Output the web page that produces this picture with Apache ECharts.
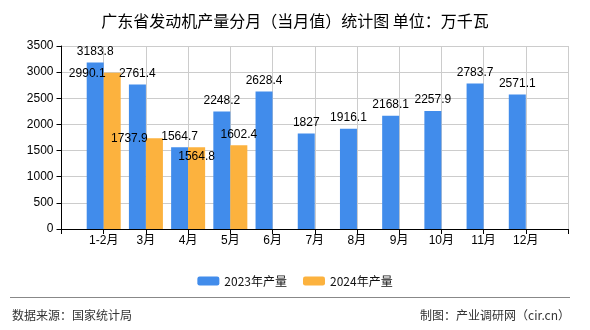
<!DOCTYPE html>
<html>
<head>
<meta charset="utf-8">
<script src="https://cdn.jsdelivr.net/npm/echarts@6/dist/echarts.min.js"></script>
<style>
html,body{margin:0;padding:0;background:#fff;}
#chart{width:590px;height:330px;}
</style>
</head>
<body>
<div id="chart"></div>
<script>
var categories = ['1-2月','3月','4月','5月','6月','7月','8月','9月','10月','11月','12月'];
var values2023 = [3183.8, 2761.4, 1564.7, 2248.2, 2628.4, 1827, 1916.1, 2168.1, 2257.9, 2783.7, 2571.1];
var values2024 = [2990.1, 1737.9, 1564.8, 1602.4, null, null, null, null, null, null, null];
var seriesNames = ['2023年产量', '2024年产量'];
var yTicks = [0, 500, 1000, 1500, 2000, 2500, 3000, 3500];

var labelFont = "'Liberation Sans', 'Noto Sans CJK SC', sans-serif";
var cjkFont = "'Noto Sans CJK SC', sans-serif";

// pad the category axis with empty slots at both ends
var axisCats = [''].concat(categories, ['']);
function pad(arr) { return [null].concat(arr, [null]); }

// label nudges for 2024 labels (as in the reference picture)
var tweak2024 = {0: [-25, 12], 1: [-25, 12], 2: [0, 21]};

var data2023 = pad(values2023);
var data2024 = pad(values2024).map(function (v, i) {
  var k = i - 1;
  if (v == null) return null;
  if (tweak2024[k]) return {value: v, label: {offset: tweak2024[k]}};
  return v;
});

var chart = echarts.init(document.getElementById('chart'), null, {renderer: 'canvas'});
chart.setOption({
  animation: false,
  backgroundColor: '#fff',
  title: {
    text: '广东省发动机产量分月（当月值）统计图 单位：万千瓦',
    left: 'center',
    top: 8,
    textStyle: {fontFamily: cjkFont, fontSize: 16, fontWeight: 'normal', color: '#000'}
  },
  legend: {
    data: seriesNames,
    left: 'center',
    top: 270,
    itemWidth: 22,
    itemHeight: 9,
    itemGap: 16,
    textStyle: {fontFamily: cjkFont, fontSize: 12, color: '#111'}
  },
  grid: {left: 61.5, right: 22, top: 46, bottom: 101, containLabel: false},
  xAxis: {
    type: 'category',
    data: axisCats,
    boundaryGap: false,
    axisLine: {lineStyle: {color: '#000', width: 1}},
    axisTick: {show: true, length: 5, lineStyle: {color: '#000'}},
    axisLabel: {interval: 0, color: '#000', fontSize: 12, fontFamily: labelFont, margin: 6},
    splitLine: {show: true, lineStyle: {color: '#ccc', width: 1}}
  },
  yAxis: {
    type: 'value',
    min: yTicks[0],
    max: yTicks[yTicks.length - 1],
    interval: 500,
    axisLine: {show: true, lineStyle: {color: '#000', width: 1}},
    axisTick: {show: true, length: 5, lineStyle: {color: '#000'}},
    axisLabel: {color: '#000', fontSize: 12, fontFamily: labelFont, margin: 8,
      formatter: function (v) { return String(v); }},
    splitLine: {show: true, lineStyle: {color: '#ccc', width: 1}}
  },
  series: [
    {
      name: seriesNames[0],
      type: 'bar',
      data: data2023,
      barWidth: 17,
      barGap: '0%',
      itemStyle: {color: '#418CEB'},
      label: {show: true, position: 'top', color: '#000', fontSize: 12, fontFamily: labelFont}
    },
    {
      name: seriesNames[1],
      type: 'bar',
      data: data2024,
      barWidth: 17,
      barGap: '0%',
      itemStyle: {color: '#FCB23E'},
      label: {show: true, position: 'top', color: '#000', fontSize: 12, fontFamily: labelFont}
    }
  ],
  graphic: [
    {type: 'line', shape: {x1: 10, y1: 297.5, x2: 570, y2: 297.5}, style: {stroke: '#888', lineWidth: 1}},
    {type: 'text', left: 12, top: 309, style: {text: '数据来源：国家统计局', font: "12px 'Noto Sans CJK SC', sans-serif", fill: '#333'}},
    {type: 'text', right: 20, top: 309, style: {text: '制图：产业调研网（cir.cn）', font: "12px 'Noto Sans CJK SC', sans-serif", fill: '#333'}}
  ]
});
</script>
</body>
</html>
